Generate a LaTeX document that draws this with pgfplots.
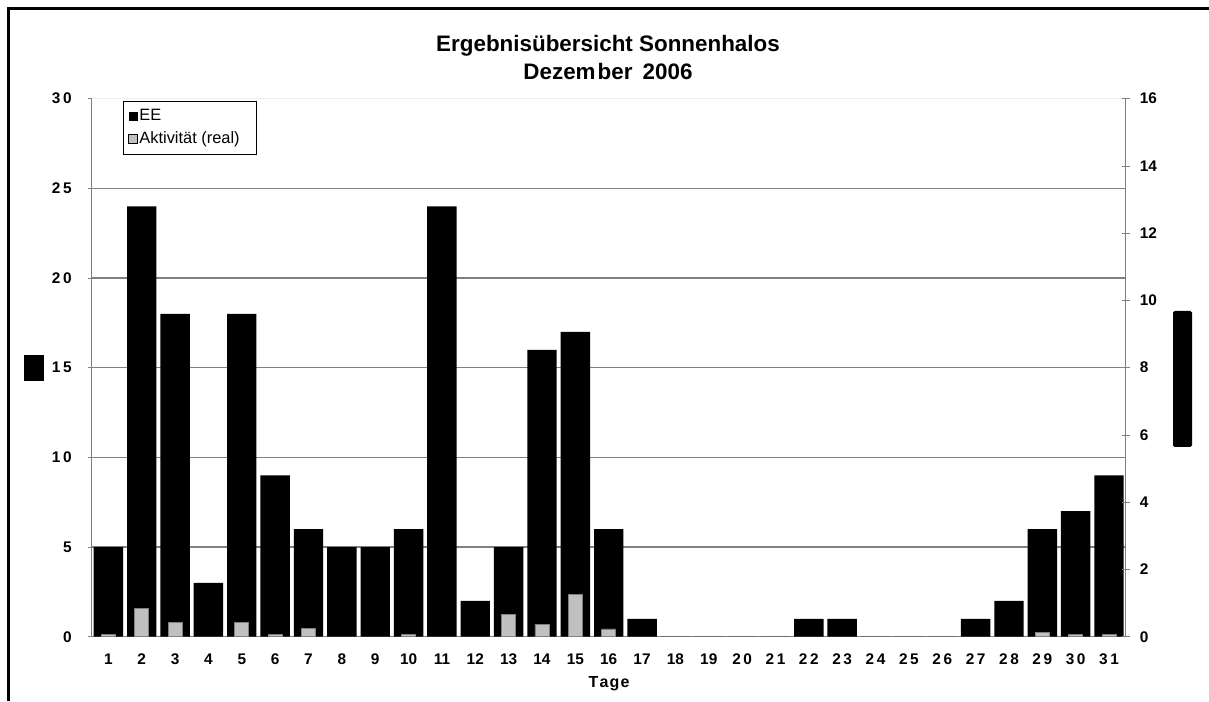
\documentclass[border=0pt]{standalone}
\usepackage{fontspec}
\setmainfont{Liberation Sans}
\usepackage{pgfplots}
\pgfplotsset{compat=1.18}
\definecolor{axgray}{HTML}{808080}
\definecolor{barg}{HTML}{C0C0C0}
\newcommand{\tl}{\fontsize{7.7}{9}\selectfont\bfseries}
\newcommand{\sk}{\kern1.3pt}
\begin{document}
\begin{tikzpicture}[x=1pt,y=1pt]
\useasboundingbox (0,0) rectangle (604.5,350.5);
\draw[line width=1.3pt] (4.35,0) -- (4.35,346.15) -- (604.5,346.15);
\node[anchor=base,font=\fontsize{11.2}{13}\selectfont\bfseries] at (304,324.5) {Ergebnisübersicht Sonnenhalos};
\node[anchor=base,font=\fontsize{11.2}{13}\selectfont\bfseries] at (304,310.5) {Dezem\kern1pt ber\kern2pt\ 2006};
\node[anchor=base,font=\fontsize{8}{10}\selectfont\bfseries] at (304.5,7) {T\kern0.6pt a\kern0.6pt g\kern0.6pt e};
\fill (12,160) rectangle (22,173);
\fill[rounded corners=0.8pt] (586.5,127) rectangle (596,195);
\begin{axis}[
  at={(45.85pt,32.15pt)}, anchor=south west, scale only axis,
  width=517pt, height=269pt,
  xmin=0.5, xmax=31.5, ymin=0, ymax=30,
  axis x line*=bottom, axis y line*=left,
  axis line style={axgray,-},
  tick align=outside, major tick length=2pt, minor tick length=2pt,
  xtick={1,...,31},
  xticklabels={1,2,3,4,5,6,7,8,9,10,11,12,13,14,15,16,17,18,19,2\sk0,2\sk1,2\sk2,2\sk3,2\sk4,2\sk5,2\sk6,2\sk7,2\sk8,2\sk9,3\sk0,3\sk1},
  xtick style={draw=none},
  minor xtick={0.5,1.5,...,31.5},
  minor x tick style={axgray},
  ytick={0,5,...,25},
  yticklabels={0,5,1\sk0,1\sk5,2\sk0,2\sk5},
  extra y ticks={30},
  extra y tick labels={3\sk0},
  extra y tick style={major grid style={gray!15,line width=0.6pt}},
  ytick style={axgray},
  ymajorgrids,
  major grid style={axgray,line width=0.6pt},
  ticklabel style={font=\tl},
  xticklabel style={yshift=-3pt},
  yticklabel style={xshift=-4.5pt},
  legend style={at={(axis description cs:0.0303,0.9957)}, anchor=north west,
    draw=black, line width=0.4pt, font=\fontsize{8.2}{10}\selectfont,
    inner xsep=2.5pt, inner ysep=3pt, row sep=2.5pt,
    nodes={inner sep=0.8pt}},
  legend cell align=left,
  legend image code/.code={\draw[#1] (0pt,-2.1pt) rectangle (4.2pt,2.1pt);},
]
\addplot[ybar, bar width=14.7pt, fill=black, draw=none] coordinates {
(1,5) (2,24) (3,18) (4,3) (5,18) (6,9) (7,6) (8,5) (9,5) (10,6)
(11,24) (12,2) (13,5) (14,16) (15,17) (16,6) (17,1) (18,0) (19,0) (20,0)
(21,0) (22,1) (23,1) (24,0) (25,0) (26,0) (27,1) (28,2) (29,6) (30,7) (31,9)};
\addlegendentry{EE}
\addlegendimage{fill=barg, draw=black, line width=0.5pt}
\addlegendentry{Aktivität (real)\kern5pt\null}
\end{axis}
\begin{axis}[
  at={(45.85pt,32.15pt)}, anchor=south west, scale only axis,
  width=517pt, height=269pt,
  xmin=0.5, xmax=31.5, ymin=0, ymax=16,
  axis x line=none, axis y line*=right,
  axis line style={axgray,-},
  tick align=center, major tick length=4pt,
  ytick={0,2,...,16},
  yticklabels={0,2,4,6,8,10,12,14,16},
  ytick style={axgray},
  ticklabel style={font=\tl},
  yticklabel style={xshift=1.5pt},
]
\addplot[ybar, bar width=7pt, fill=barg, draw=axgray, line width=0.4pt] coordinates {
(1,0.06) (2,0.84) (3,0.42) (5,0.42) (6,0.06) (7,0.24) (10,0.06)
(13,0.66) (14,0.36) (15,1.25) (16,0.23) (29,0.12) (30,0.06) (31,0.06)};
\end{axis}
\end{tikzpicture}
\end{document}
